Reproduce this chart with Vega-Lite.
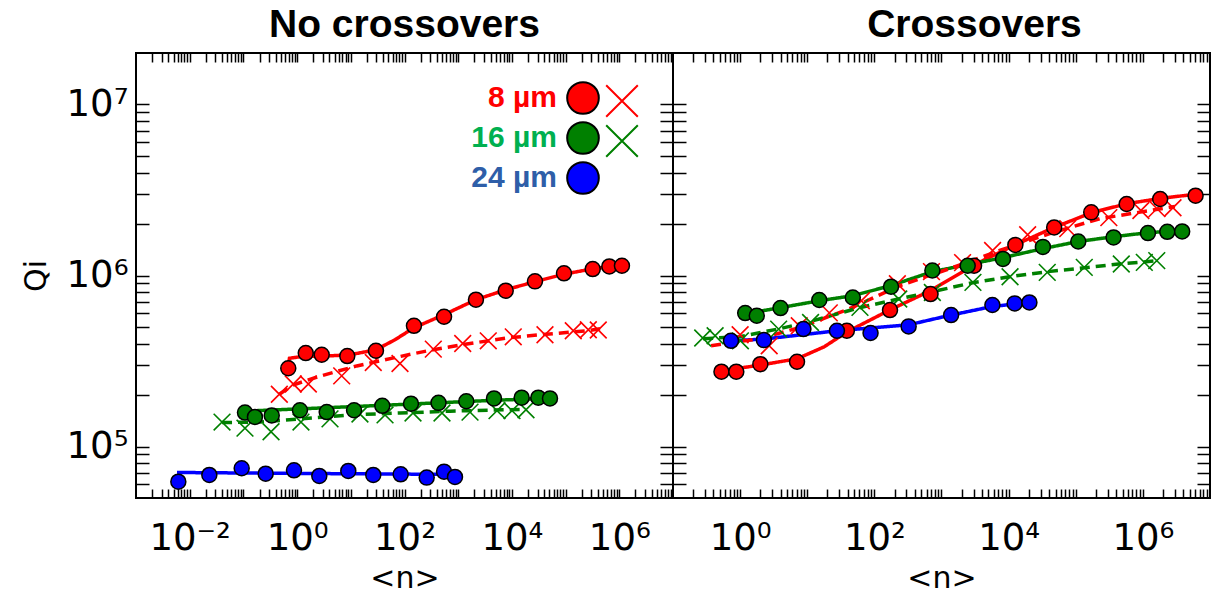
{
  "$schema": "https://vega.github.io/schema/vega-lite/v6.json",
  "background": "white",
  "padding": {"left": 20, "top": 5, "right": 0, "bottom": 0},
  "spacing": 0,
  "bounds": "flush",
  "resolve": {"scale": {"color": "independent", "fill": "independent", "stroke": "independent", "strokeDash": "independent"}},
  "config": {"view": {"stroke": "black", "strokeWidth": 2}},
  "datasets": {
    "left": [
      {"s":"8 µm","m":"cross","n":0.467,"q":202000},{"s":"8 µm","m":"cross","n":0.849,"q":232000},{"s":"8 µm","m":"cross","n":1.62,"q":232000},{"s":"8 µm","m":"cross","n":6.77,"q":259000},{"s":"8 µm","m":"cross","n":26.2,"q":310000},{"s":"8 µm","m":"cross","n":82.4,"q":306000},{"s":"8 µm","m":"cross","n":344,"q":371000},{"s":"8 µm","m":"cross","n":1213,"q":400000},{"s":"8 µm","m":"cross","n":3630,"q":415000},{"s":"8 µm","m":"cross","n":10600,"q":438000},{"s":"8 µm","m":"cross","n":41300,"q":450000},{"s":"8 µm","m":"cross","n":139000,"q":475000},{"s":"8 µm","m":"cross","n":265000,"q":482000},{"s":"8 µm","m":"cross","n":406000,"q":480000},
      {"s":"16 µm","m":"cross","n":0.04,"q":139000},{"s":"16 µm","m":"cross","n":0.107,"q":128000},{"s":"16 µm","m":"cross","n":0.327,"q":122000},{"s":"16 µm","m":"cross","n":1.18,"q":139000},{"s":"16 µm","m":"cross","n":4.1,"q":145000},{"s":"16 µm","m":"cross","n":14.8,"q":155000},{"s":"16 µm","m":"cross","n":43.4,"q":153000},{"s":"16 µm","m":"cross","n":144,"q":157000},{"s":"16 µm","m":"cross","n":499,"q":157000},{"s":"16 µm","m":"cross","n":1660,"q":159000},{"s":"16 µm","m":"cross","n":5280,"q":162000},{"s":"16 µm","m":"cross","n":10050,"q":162000},{"s":"16 µm","m":"cross","n":18300,"q":164000},
      {"s":"8 µm","m":"circle","n":0.685,"q":287000},{"s":"8 µm","m":"circle","n":1.45,"q":352000},{"s":"8 µm","m":"circle","n":2.87,"q":344000},{"s":"8 µm","m":"circle","n":8.6,"q":338000},{"s":"8 µm","m":"circle","n":29.4,"q":363000},{"s":"8 µm","m":"circle","n":150,"q":508000},{"s":"8 µm","m":"circle","n":545,"q":574000},{"s":"8 µm","m":"circle","n":2140,"q":722000},{"s":"8 µm","m":"circle","n":7670,"q":815000},{"s":"8 µm","m":"circle","n":26900,"q":924000},{"s":"8 µm","m":"circle","n":93300,"q":1030000},{"s":"8 µm","m":"circle","n":320000,"q":1090000},{"s":"8 µm","m":"circle","n":652000,"q":1130000},{"s":"8 µm","m":"circle","n":1120000,"q":1140000},
      {"s":"16 µm","m":"circle","n":0.107,"q":158000},{"s":"16 µm","m":"circle","n":0.164,"q":149000},{"s":"16 µm","m":"circle","n":0.337,"q":152000},{"s":"16 µm","m":"circle","n":1.13,"q":163000},{"s":"16 µm","m":"circle","n":3.56,"q":159000},{"s":"16 µm","m":"circle","n":11.5,"q":163000},{"s":"16 µm","m":"circle","n":38.6,"q":173000},{"s":"16 µm","m":"circle","n":132,"q":178000},{"s":"16 µm","m":"circle","n":430,"q":180000},{"s":"16 µm","m":"circle","n":1415,"q":184000},{"s":"16 µm","m":"circle","n":4640,"q":191000},{"s":"16 µm","m":"circle","n":15200,"q":193000},{"s":"16 µm","m":"circle","n":31000,"q":193000},{"s":"16 µm","m":"circle","n":51200,"q":191000},
      {"s":"24 µm","m":"circle","n":0.00614,"q":62300},{"s":"24 µm","m":"circle","n":0.0232,"q":68200},{"s":"24 µm","m":"circle","n":0.0929,"q":74600},{"s":"24 µm","m":"circle","n":0.26,"q":69400},{"s":"24 µm","m":"circle","n":0.875,"q":72600},{"s":"24 µm","m":"circle","n":2.59,"q":67300},{"s":"24 µm","m":"circle","n":8.98,"q":72000},{"s":"24 µm","m":"circle","n":26.2,"q":68200},{"s":"24 µm","m":"circle","n":84.9,"q":68800},{"s":"24 µm","m":"circle","n":259,"q":65800},{"s":"24 µm","m":"circle","n":545,"q":71300},{"s":"24 µm","m":"circle","n":871,"q":66400}
    ],
    "leftfit": [
      {"s":"8 µm","m":"circle","n":0.685,"q":295000},{"s":"8 µm","m":"circle","n":0.72,"q":328000},{"s":"8 µm","m":"circle","n":1.13,"q":335000},{"s":"8 µm","m":"circle","n":4.1,"q":339000},{"s":"8 µm","m":"circle","n":9.66,"q":344000},{"s":"8 µm","m":"circle","n":29.4,"q":368000},{"s":"8 µm","m":"circle","n":66.5,"q":421000},{"s":"8 µm","m":"circle","n":150,"q":495000},{"s":"8 µm","m":"circle","n":545,"q":590000},{"s":"8 µm","m":"circle","n":2140,"q":722000},{"s":"8 µm","m":"circle","n":7760,"q":826000},{"s":"8 µm","m":"circle","n":26900,"q":920000},{"s":"8 µm","m":"circle","n":93300,"q":1018000},{"s":"8 µm","m":"circle","n":324000,"q":1096000},{"s":"8 µm","m":"circle","n":1120000,"q":1149000},
      {"s":"8 µm","m":"cross","n":0.467,"q":202000},{"s":"8 µm","m":"cross","n":0.84,"q":229000},{"s":"8 µm","m":"cross","n":2.45,"q":256000},{"s":"8 µm","m":"cross","n":12.9,"q":296000},{"s":"8 µm","m":"cross","n":93.8,"q":339000},{"s":"8 µm","m":"cross","n":340,"q":368000},{"s":"8 µm","m":"cross","n":1080,"q":392000},{"s":"8 µm","m":"cross","n":8000,"q":431000},{"s":"8 µm","m":"cross","n":33400,"q":450000},{"s":"8 µm","m":"cross","n":247000,"q":475000},{"s":"8 µm","m":"cross","n":438000,"q":488000},
      {"s":"16 µm","m":"circle","n":0.107,"q":161000},{"s":"16 µm","m":"circle","n":1.13,"q":166000},{"s":"16 µm","m":"circle","n":82.4,"q":176000},{"s":"16 µm","m":"circle","n":6000,"q":187000},{"s":"16 µm","m":"circle","n":51200,"q":191000},
      {"s":"16 µm","m":"cross","n":0.04,"q":138000},{"s":"16 µm","m":"cross","n":0.204,"q":139000},{"s":"16 µm","m":"cross","n":1.13,"q":145000},{"s":"16 µm","m":"cross","n":9.66,"q":153000},{"s":"16 µm","m":"cross","n":82.4,"q":157000},{"s":"16 µm","m":"cross","n":703,"q":161000},{"s":"16 µm","m":"cross","n":18300,"q":165000},
      {"s":"24 µm","m":"circle","n":0.0058,"q":70500},{"s":"24 µm","m":"circle","n":1.13,"q":69600},{"s":"24 µm","m":"circle","n":871,"q":68700}
    ],
    "right": [
      {"s":"8 µm","m":"cross","n":1.0,"q":450000},{"s":"8 µm","m":"cross","n":2.71,"q":388000},{"s":"8 µm","m":"cross","n":7.6,"q":508000},{"s":"8 µm","m":"cross","n":21.3,"q":605000},{"s":"8 µm","m":"cross","n":64,"q":712000},{"s":"8 µm","m":"cross","n":220,"q":895000},{"s":"8 µm","m":"cross","n":709,"q":1053000},{"s":"8 µm","m":"cross","n":2060,"q":1190000},{"s":"8 µm","m":"cross","n":5770,"q":1400000},{"s":"8 µm","m":"cross","n":19200,"q":1730000},{"s":"8 µm","m":"cross","n":76000,"q":1880000},{"s":"8 µm","m":"cross","n":311000,"q":2180000},{"s":"8 µm","m":"cross","n":934000,"q":2400000},{"s":"8 µm","m":"cross","n":1620000,"q":2460000},{"s":"8 µm","m":"cross","n":2810000,"q":2490000},
      {"s":"16 µm","m":"cross","n":0.277,"q":431000},{"s":"16 µm","m":"cross","n":0.424,"q":444000},{"s":"16 µm","m":"cross","n":1.01,"q":415000},{"s":"16 µm","m":"cross","n":3.75,"q":486000},{"s":"16 µm","m":"cross","n":11.2,"q":531000},{"s":"16 µm","m":"cross","n":61,"q":651000},{"s":"16 µm","m":"cross","n":231,"q":729000},{"s":"16 µm","m":"cross","n":731,"q":796000},{"s":"16 µm","m":"cross","n":2940,"q":911000},{"s":"16 µm","m":"cross","n":10500,"q":984000},{"s":"16 µm","m":"cross","n":37600,"q":1043000},{"s":"16 µm","m":"cross","n":134000,"q":1115000},{"s":"16 µm","m":"cross","n":477000,"q":1168000},{"s":"16 µm","m":"cross","n":1050000,"q":1193000},{"s":"16 µm","m":"cross","n":1610000,"q":1221000},
      {"s":"8 µm","m":"circle","n":0.527,"q":274000},{"s":"8 µm","m":"circle","n":0.877,"q":274000},{"s":"8 µm","m":"circle","n":2.0,"q":303000},{"s":"8 µm","m":"circle","n":7.04,"q":313000},{"s":"8 µm","m":"circle","n":38.9,"q":475000},{"s":"8 µm","m":"circle","n":171,"q":628000},{"s":"8 µm","m":"circle","n":687,"q":779000},{"s":"8 µm","m":"circle","n":3055,"q":1140000},{"s":"8 µm","m":"circle","n":12600,"q":1510000},{"s":"8 µm","m":"circle","n":47700,"q":1910000},{"s":"8 µm","m":"circle","n":170000,"q":2340000},{"s":"8 µm","m":"circle","n":573000,"q":2620000},{"s":"8 µm","m":"circle","n":1810000,"q":2800000},{"s":"8 µm","m":"circle","n":6100000,"q":2930000},
      {"s":"16 µm","m":"circle","n":1.19,"q":603000},{"s":"16 µm","m":"circle","n":1.77,"q":582000},{"s":"16 µm","m":"circle","n":4.0,"q":645000},{"s":"16 µm","m":"circle","n":15.1,"q":719000},{"s":"16 µm","m":"circle","n":47.7,"q":744000},{"s":"16 µm","m":"circle","n":177,"q":860000},{"s":"16 µm","m":"circle","n":731,"q":1070000},{"s":"16 µm","m":"circle","n":2455,"q":1140000},{"s":"16 µm","m":"circle","n":8240,"q":1250000},{"s":"16 µm","m":"circle","n":32400,"q":1470000},{"s":"16 µm","m":"circle","n":109000,"q":1580000},{"s":"16 µm","m":"circle","n":366000,"q":1670000},{"s":"16 µm","m":"circle","n":1190000,"q":1770000},{"s":"16 µm","m":"circle","n":2310000,"q":1800000},{"s":"16 µm","m":"circle","n":3850000,"q":1810000},
      {"s":"24 µm","m":"circle","n":0.731,"q":415000},{"s":"24 µm","m":"circle","n":2.26,"q":419000},{"s":"24 µm","m":"circle","n":8.77,"q":486000},{"s":"24 µm","m":"circle","n":27.7,"q":475000},{"s":"24 µm","m":"circle","n":87.7,"q":461000},{"s":"24 µm","m":"circle","n":324,"q":504000},{"s":"24 µm","m":"circle","n":1390,"q":587000},{"s":"24 µm","m":"circle","n":5730,"q":672000},{"s":"24 µm","m":"circle","n":12300,"q":687000},{"s":"24 µm","m":"circle","n":20400,"q":696000}
    ],
    "rightfit": [
      {"s":"8 µm","m":"circle","n":0.52,"q":277000},{"s":"8 µm","m":"circle","n":2.06,"q":300000},{"s":"8 µm","m":"circle","n":7.09,"q":326000},{"s":"8 µm","m":"circle","n":17.9,"q":383000},{"s":"8 µm","m":"circle","n":39.5,"q":469000},{"s":"8 µm","m":"circle","n":173,"q":631000},{"s":"8 µm","m":"circle","n":685,"q":815000},{"s":"8 µm","m":"circle","n":3110,"q":1157000},{"s":"8 µm","m":"circle","n":12700,"q":1515000},{"s":"8 µm","m":"circle","n":46900,"q":1905000},{"s":"8 µm","m":"circle","n":173000,"q":2330000},{"s":"8 µm","m":"circle","n":577000,"q":2630000},{"s":"8 µm","m":"circle","n":1790000,"q":2820000},{"s":"8 µm","m":"circle","n":6180000,"q":2990000},
      {"s":"16 µm","m":"circle","n":1.19,"q":598000},{"s":"16 µm","m":"circle","n":3.95,"q":648000},{"s":"16 µm","m":"circle","n":15.1,"q":712000},{"s":"16 µm","m":"circle","n":46.9,"q":761000},{"s":"16 µm","m":"circle","n":173,"q":871000},{"s":"16 µm","m":"circle","n":734,"q":1053000},{"s":"16 µm","m":"circle","n":2440,"q":1157000},{"s":"16 µm","m":"circle","n":8130,"q":1270000},{"s":"16 µm","m":"circle","n":32100,"q":1435000},{"s":"16 µm","m":"circle","n":107000,"q":1578000},{"s":"16 µm","m":"circle","n":369000,"q":1687000},{"s":"16 µm","m":"circle","n":1190000,"q":1780000},{"s":"16 µm","m":"circle","n":3820000,"q":1830000},
      {"s":"24 µm","m":"circle","n":0.731,"q":415000},{"s":"24 µm","m":"circle","n":2.26,"q":425000},{"s":"24 µm","m":"circle","n":27.7,"q":475000},{"s":"24 µm","m":"circle","n":324,"q":515000},{"s":"24 µm","m":"circle","n":1390,"q":587000},{"s":"24 µm","m":"circle","n":5730,"q":659000},{"s":"24 µm","m":"circle","n":20400,"q":696000},
      {"s":"8 µm","m":"cross","n":0.369,"q":388000},{"s":"8 µm","m":"cross","n":1.92,"q":427000},{"s":"8 µm","m":"cross","n":7.6,"q":495000},{"s":"8 µm","m":"cross","n":42.4,"q":639000},{"s":"8 µm","m":"cross","n":236,"q":871000},{"s":"8 µm","m":"cross","n":1316,"q":1096000},{"s":"8 µm","m":"cross","n":7340,"q":1400000},{"s":"8 µm","m":"cross","n":40900,"q":1757000},{"s":"8 µm","m":"cross","n":228000,"q":2150000},{"s":"8 µm","m":"cross","n":3000000,"q":2530000},
      {"s":"16 µm","m":"cross","n":0.281,"q":427000},{"s":"16 µm","m":"cross","n":0.966,"q":438000},{"s":"16 µm","m":"cross","n":3.82,"q":488000},{"s":"16 µm","m":"cross","n":10.7,"q":536000},{"s":"16 µm","m":"cross","n":59.7,"q":648000},{"s":"16 µm","m":"cross","n":236,"q":731000},{"s":"16 µm","m":"cross","n":734,"q":804000},{"s":"16 µm","m":"cross","n":2900,"q":907000},{"s":"16 µm","m":"cross","n":10350,"q":984000},{"s":"16 µm","m":"cross","n":38200,"q":1053000},{"s":"16 µm","m":"cross","n":136000,"q":1110000},{"s":"16 µm","m":"cross","n":470000,"q":1170000},{"s":"16 µm","m":"cross","n":1620000,"q":1220000}
    ]
  },
  "hconcat": [
    {
      "width": 537,
      "height": 445,
      "title": {"text": "No crossovers", "font": "Liberation Sans", "fontSize": 39, "fontWeight": "bold", "color": "black", "anchor": "middle", "offset": 7},
      "resolve": {"axis": {"x": "independent", "y": "independent"}},
      "layer": [
        {
          "data": {"name": "leftfit"},
          "mark": {"type": "line", "strokeWidth": 3.5},
          "encoding": {
            "x": {"field": "n", "type": "quantitative", "scale": {"type": "log", "domain": [0.001, 10000000], "nice": false},
              "axis": {"orient": "bottom", "values": [0.002,0.003,0.004,0.005,0.006,0.007,0.008,0.009,0.01,0.02,0.03,0.04,0.05,0.06,0.07,0.08,0.09,0.1,0.2,0.3,0.4,0.5,0.6,0.7,0.8,0.9,1,2,3,4,5,6,7,8,9,10,20,30,40,50,60,70,80,90,100,200,300,400,500,600,700,800,900,1000,2000,3000,4000,5000,6000,7000,8000,9000,10000,20000,30000,40000,50000,60000,70000,80000,90000,100000,200000,300000,400000,500000,600000,700000,800000,900000,1000000,2000000,3000000,4000000,5000000,6000000,7000000,8000000,9000000],
                "tickSize": -9, "tickColor": "black", "tickWidth": 1.5, "domain": false, "grid": false,
                "labelExpr": "datum.value == 0.01 ? '10⁻²' : datum.value == 1 ? '10⁰' : datum.value == 100 ? '10²' : datum.value == 10000 ? '10⁴' : datum.value == 1000000 ? '10⁶' : ''",
                "labelFont": "DejaVu Sans", "labelFontSize": 37, "labelColor": "black", "labelPadding": 31, "labelOverlap": false, "labelFlush": false, "labelBound": false,
                "title": "<n>", "titleFont": "DejaVu Sans", "titleFontSize": 30, "titleFontWeight": "normal", "titleColor": "black", "titlePadding": 7,
                "encode": {"ticks": {"y2": {"value": {"expr": "abs(log(datum.value)/LN10 - round(log(datum.value)/LN10)) < 0.001 ? -9 : -5"}}}}}},
            "y": {"field": "q", "type": "quantitative", "scale": {"type": "log", "domain": [50000, 20000000], "nice": false},
              "axis": {"orient": "left", "values": [60000,70000,80000,90000,100000,200000,300000,400000,500000,600000,700000,800000,900000,1000000,2000000,3000000,4000000,5000000,6000000,7000000,8000000,9000000,10000000],
                "tickSize": -13, "tickColor": "black", "tickWidth": 1.5, "domain": false, "grid": false,
                "labelExpr": "datum.value == 100000 ? '10⁵' : datum.value == 1000000 ? '10⁶' : datum.value == 10000000 ? '10⁷' : ''",
                "labelFont": "DejaVu Sans", "labelFontSize": 37, "labelColor": "black", "labelPadding": 21, "labelOverlap": false, "labelBound": false, "labelFlush": false,
                "title": "Qi", "titleFont": "DejaVu Sans", "titleFontSize": 30, "titleFontWeight": "normal", "titleColor": "black", "titlePadding": 15,
                "encode": {"ticks": {"x2": {"value": {"expr": "abs(log(datum.value)/LN10 - round(log(datum.value)/LN10)) < 0.001 ? 13 : 7"}}}}}},
            "color": {"field": "s", "type": "nominal", "scale": {"domain": ["24 µm", "8 µm", "16 µm"], "range": ["#0000ff", "#ff0000", "#008000"]}, "legend": null},
            "strokeDash": {"field": "m", "type": "nominal", "scale": {"domain": ["circle", "cross"], "range": [[1, 0], [10, 6]]}, "legend": null}
          }
        },
        {
          "data": {"name": "left"},
          "transform": [{"filter": "datum.m == 'cross'"}],
          "mark": {"type": "point", "shape": "M-1,-1L1,1M-1,1L1,-1", "filled": false, "size": 280, "strokeWidth": 1.6, "opacity": 1},
          "encoding": {
            "x": {"field": "n", "type": "quantitative",
              "axis": {"orient": "top", "values": [0.002,0.003,0.004,0.005,0.006,0.007,0.008,0.009,0.01,0.02,0.03,0.04,0.05,0.06,0.07,0.08,0.09,0.1,0.2,0.3,0.4,0.5,0.6,0.7,0.8,0.9,1,2,3,4,5,6,7,8,9,10,20,30,40,50,60,70,80,90,100,200,300,400,500,600,700,800,900,1000,2000,3000,4000,5000,6000,7000,8000,9000,10000,20000,30000,40000,50000,60000,70000,80000,90000,100000,200000,300000,400000,500000,600000,700000,800000,900000,1000000,2000000,3000000,4000000,5000000,6000000,7000000,8000000,9000000],
                "tickSize": -9, "tickColor": "black", "tickWidth": 1.5, "domain": false, "grid": false, "labels": false, "title": null,
                "encode": {"ticks": {"y2": {"value": {"expr": "abs(log(datum.value)/LN10 - round(log(datum.value)/LN10)) < 0.001 ? 9 : 5"}}}}}},
            "y": {"field": "q", "type": "quantitative",
              "axis": {"orient": "right", "values": [60000,70000,80000,90000,100000,200000,300000,400000,500000,600000,700000,800000,900000,1000000,2000000,3000000,4000000,5000000,6000000,7000000,8000000,9000000,10000000],
                "tickSize": -13, "tickColor": "black", "tickWidth": 1.5, "domain": false, "grid": false, "labels": false, "title": null,
                "encode": {"ticks": {"x2": {"value": {"expr": "abs(log(datum.value)/LN10 - round(log(datum.value)/LN10)) < 0.001 ? -13 : -7"}}}}}},
            "stroke": {"field": "s", "type": "nominal", "scale": {"domain": ["8 µm", "16 µm"], "range": ["#ff0000", "#008000"]},
              "legend": {"orient": "top-right", "offset": 31, "padding": 0, "title": null, "symbolType": "M-1,-1L1,1M-1,1L1,-1", "symbolSize": 1000, "symbolStrokeWidth": 2, "rowPadding": 0, "labelExpr": "''", "labelOffset": 0, "labelFontSize": 8}}
          }
        },
        {
          "data": {"name": "left"},
          "transform": [{"filter": "datum.m == 'circle'"}],
          "mark": {"type": "point", "shape": "circle", "filled": true, "size": 225, "stroke": "black", "strokeWidth": 1.5, "opacity": 1},
          "encoding": {
            "x": {"field": "n", "type": "quantitative", "axis": null},
            "y": {"field": "q", "type": "quantitative", "axis": null},
            "fill": {"field": "s", "type": "nominal", "scale": {"domain": ["8 µm", "16 µm", "24 µm"], "range": ["#ff0000", "#008000", "#0000ff"]},
              "legend": {"orient": "none", "legendX": 290, "legendY": 28, "padding": 0, "title": null, "symbolType": "circle", "symbolSize": 1000, "symbolStrokeWidth": 2, "rowPadding": 0,
                "symbolOffset": 140, "labelOffset": -43, "labelAlign": "right",
                "labelFont": "Liberation Sans", "labelFontWeight": "bold", "labelFontSize": 30,
                "labelColor": {"expr": "datum.value == '8 µm' ? '#ff0000' : datum.value == '16 µm' ? '#00b050' : '#2e5ea8'"}}}
          }
        }
      ]
    },
    {
      "width": 537,
      "height": 445,
      "title": {"text": "Crossovers", "font": "Liberation Sans", "fontSize": 39, "fontWeight": "bold", "color": "black", "anchor": "middle", "offset": 7, "dx": 33},
      "resolve": {"axis": {"x": "independent", "y": "independent"}},
      "layer": [
        {
          "data": {"name": "rightfit"},
          "mark": {"type": "line", "strokeWidth": 3.5},
          "encoding": {
            "x": {"field": "n", "type": "quantitative", "scale": {"type": "log", "domain": [0.1, 10000000], "nice": false},
              "axis": {"orient": "bottom", "values": [0.2,0.3,0.4,0.5,0.6,0.7,0.8,0.9,1,2,3,4,5,6,7,8,9,10,20,30,40,50,60,70,80,90,100,200,300,400,500,600,700,800,900,1000,2000,3000,4000,5000,6000,7000,8000,9000,10000,20000,30000,40000,50000,60000,70000,80000,90000,100000,200000,300000,400000,500000,600000,700000,800000,900000,1000000,2000000,3000000,4000000,5000000,6000000,7000000,8000000,9000000],
                "tickSize": -9, "tickColor": "black", "tickWidth": 1.5, "domain": false, "grid": false,
                "labelExpr": "datum.value == 1 ? '10⁰' : datum.value == 100 ? '10²' : datum.value == 10000 ? '10⁴' : datum.value == 1000000 ? '10⁶' : ''",
                "labelFont": "DejaVu Sans", "labelFontSize": 37, "labelColor": "black", "labelPadding": 31, "labelOverlap": false, "labelFlush": false, "labelBound": false,
                "title": "<n>", "titleFont": "DejaVu Sans", "titleFontSize": 30, "titleFontWeight": "normal", "titleColor": "black", "titlePadding": 7,
                "encode": {"ticks": {"y2": {"value": {"expr": "abs(log(datum.value)/LN10 - round(log(datum.value)/LN10)) < 0.001 ? -9 : -5"}}}}}},
            "y": {"field": "q", "type": "quantitative", "scale": {"type": "log", "domain": [50000, 20000000], "nice": false},
              "axis": {"orient": "left", "values": [60000,70000,80000,90000,100000,200000,300000,400000,500000,600000,700000,800000,900000,1000000,2000000,3000000,4000000,5000000,6000000,7000000,8000000,9000000,10000000],
                "tickSize": -13, "tickColor": "black", "tickWidth": 1.5, "domain": false, "grid": false, "labels": false, "title": null,
                "encode": {"ticks": {"x2": {"value": {"expr": "abs(log(datum.value)/LN10 - round(log(datum.value)/LN10)) < 0.001 ? 13 : 7"}}}}}},
            "color": {"field": "s", "type": "nominal", "scale": {"domain": ["8 µm", "16 µm", "24 µm"], "range": ["#ff0000", "#008000", "#0000ff"]}, "legend": null},
            "strokeDash": {"field": "m", "type": "nominal", "scale": {"domain": ["circle", "cross"], "range": [[1, 0], [10, 6]]}, "legend": null}
          }
        },
        {
          "data": {"name": "right"},
          "transform": [{"filter": "datum.m == 'cross'"}],
          "mark": {"type": "point", "shape": "M-1,-1L1,1M-1,1L1,-1", "filled": false, "size": 280, "strokeWidth": 1.6, "opacity": 1},
          "encoding": {
            "x": {"field": "n", "type": "quantitative",
              "axis": {"orient": "top", "values": [0.2,0.3,0.4,0.5,0.6,0.7,0.8,0.9,1,2,3,4,5,6,7,8,9,10,20,30,40,50,60,70,80,90,100,200,300,400,500,600,700,800,900,1000,2000,3000,4000,5000,6000,7000,8000,9000,10000,20000,30000,40000,50000,60000,70000,80000,90000,100000,200000,300000,400000,500000,600000,700000,800000,900000,1000000,2000000,3000000,4000000,5000000,6000000,7000000,8000000,9000000],
                "tickSize": -9, "tickColor": "black", "tickWidth": 1.5, "domain": false, "grid": false, "labels": false, "title": null,
                "encode": {"ticks": {"y2": {"value": {"expr": "abs(log(datum.value)/LN10 - round(log(datum.value)/LN10)) < 0.001 ? 9 : 5"}}}}}},
            "y": {"field": "q", "type": "quantitative",
              "axis": {"orient": "right", "values": [60000,70000,80000,90000,100000,200000,300000,400000,500000,600000,700000,800000,900000,1000000,2000000,3000000,4000000,5000000,6000000,7000000,8000000,9000000,10000000],
                "tickSize": -13, "tickColor": "black", "tickWidth": 1.5, "domain": false, "grid": false, "labels": false, "title": null,
                "encode": {"ticks": {"x2": {"value": {"expr": "abs(log(datum.value)/LN10 - round(log(datum.value)/LN10)) < 0.001 ? -13 : -7"}}}}}},
            "color": {"field": "s", "type": "nominal", "scale": {"domain": ["8 µm", "16 µm", "24 µm"], "range": ["#ff0000", "#008000", "#0000ff"]}, "legend": null}
          }
        },
        {
          "data": {"name": "right"},
          "transform": [{"filter": "datum.m == 'circle'"}],
          "mark": {"type": "point", "shape": "circle", "filled": true, "size": 225, "stroke": "black", "strokeWidth": 1.5, "opacity": 1},
          "encoding": {
            "x": {"field": "n", "type": "quantitative", "axis": null},
            "y": {"field": "q", "type": "quantitative", "axis": null},
            "color": {"field": "s", "type": "nominal", "scale": {"domain": ["8 µm", "16 µm", "24 µm"], "range": ["#ff0000", "#008000", "#0000ff"]}, "legend": null}
          }
        }
      ]
    }
  ]
}
